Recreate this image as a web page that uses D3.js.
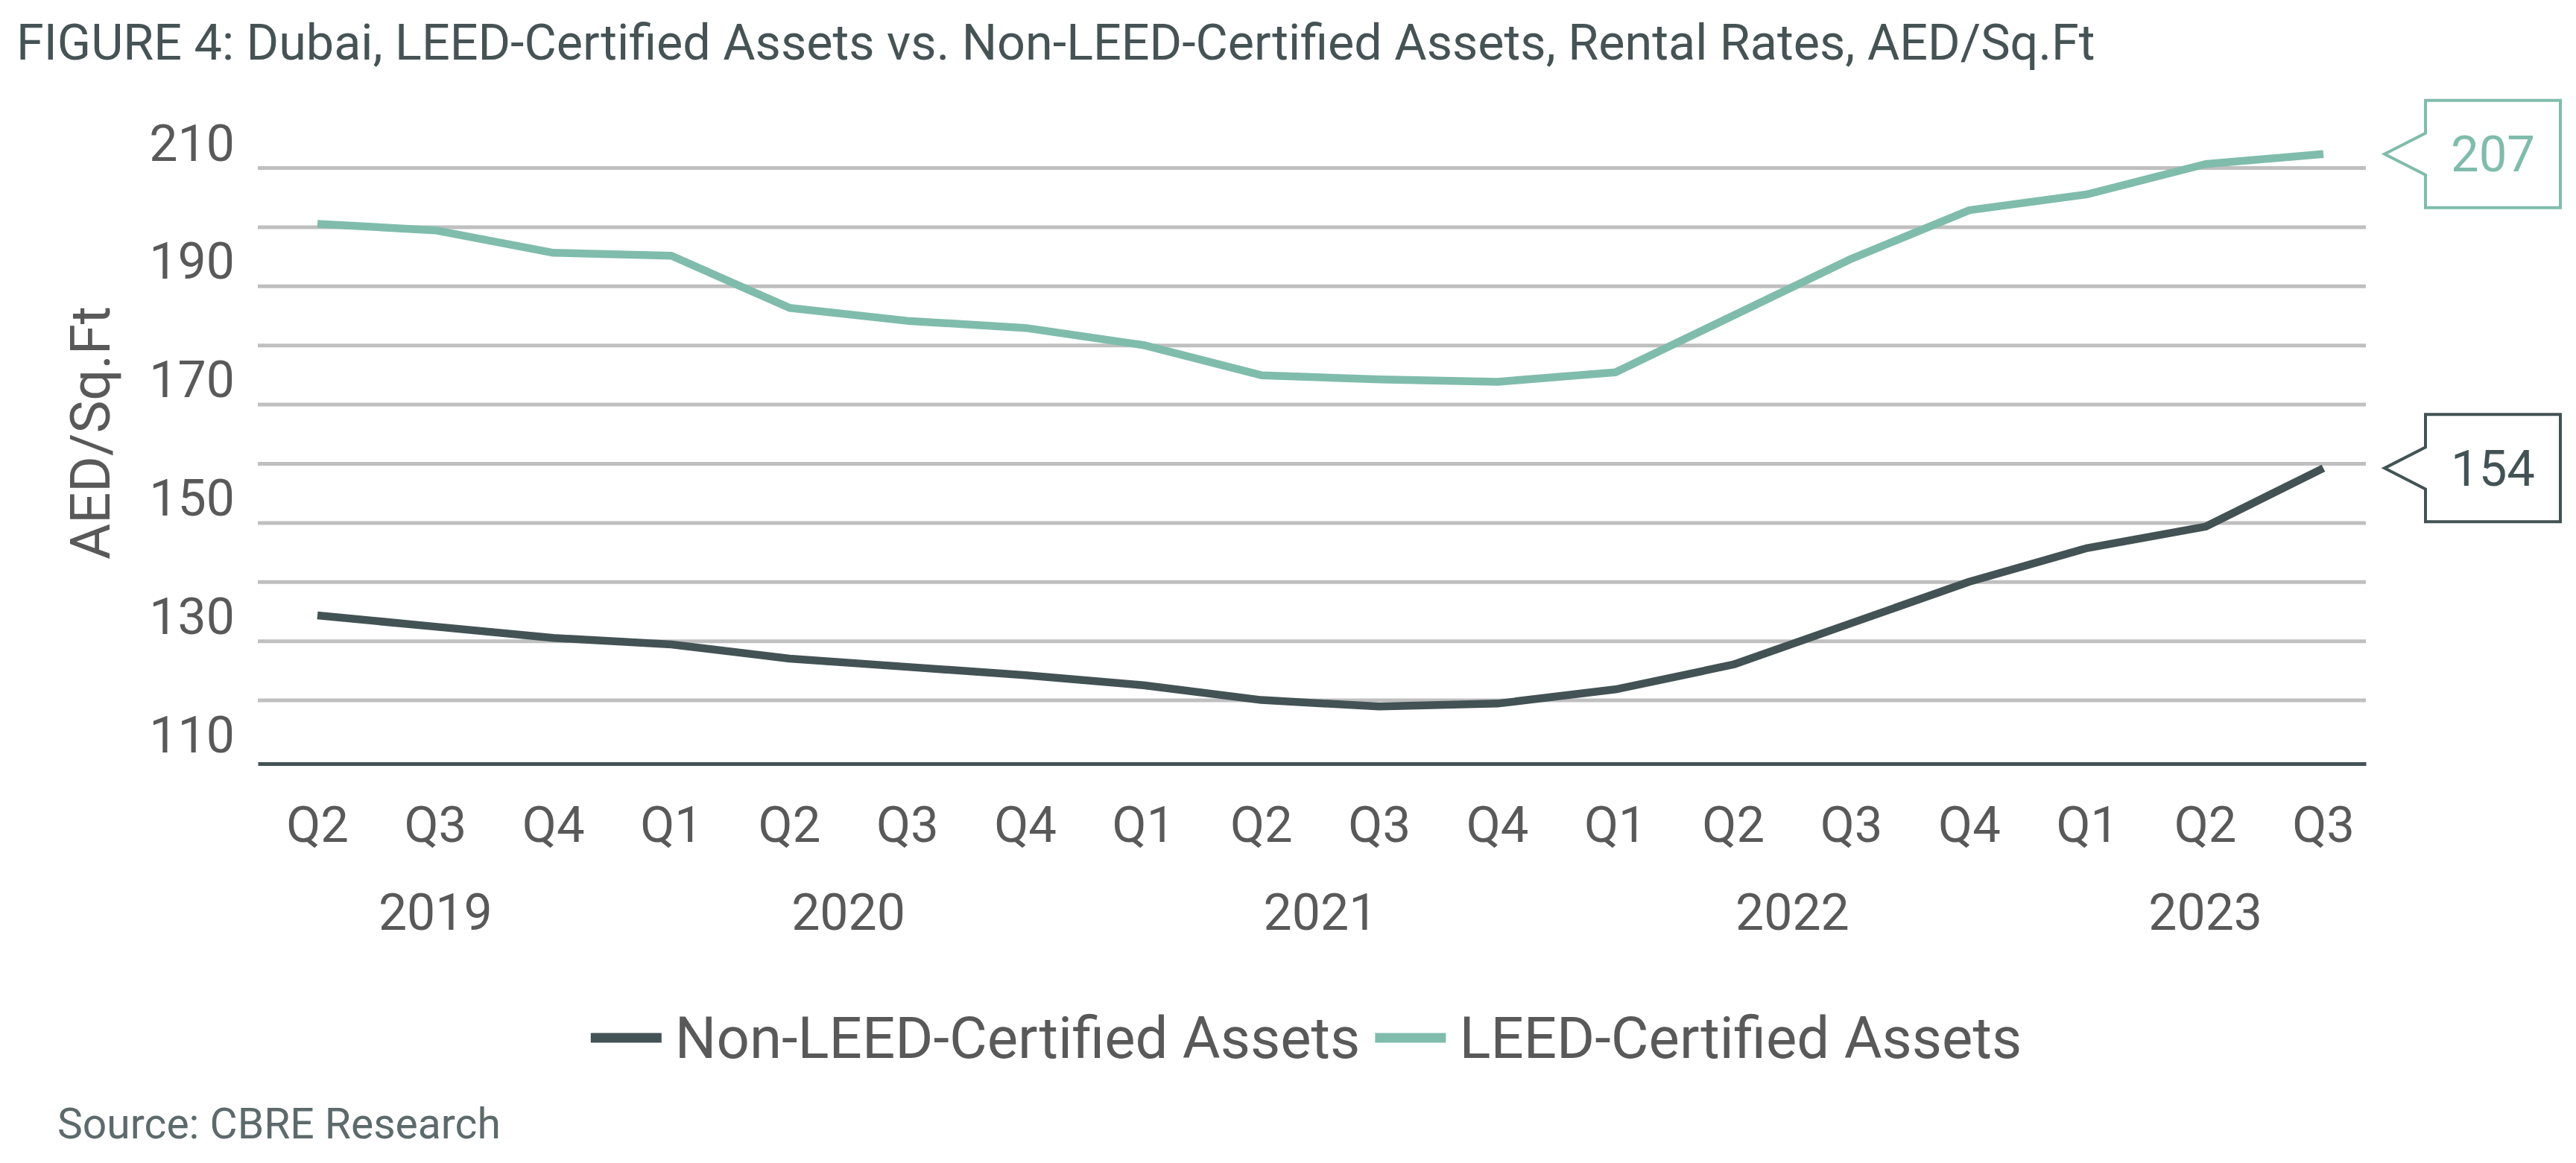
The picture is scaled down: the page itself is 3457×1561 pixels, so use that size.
<!doctype html>
<html lang="en">

<head>
	<meta charset="utf-8">
	<title>FIGURE 4: Dubai, LEED-Certified Assets vs. Non-LEED-Certified Assets</title>
	<style>
		html, body { margin: 0; padding: 0; background: #fff; }
		svg { display: block; }
		svg text { font-family: Roboto, "Noto Sans", sans-serif; }
	</style>
</head>

<body>
	<svg id="Chart"></svg>

	<script src="https://cdn.jsdelivr.net/npm/d3@7/dist/d3.min.js"></script>
	<script>
		(function () {
			"use strict"

			// quarters from Q2 2019 to Q3 2023
			var quarters = ["Q2", "Q3", "Q4", "Q1", "Q2", "Q3", "Q4", "Q1", "Q2", "Q3", "Q4", "Q1", "Q2", "Q3", "Q4", "Q1", "Q2", "Q3"];
			var years = ["2019", "2020", "2021", "2022", "2023"];
			// first and last quarter index of each year
			var yearSpans = [[0, 2], [3, 6], [7, 10], [11, 14], [15, 17]];

			var nonLeed = [129.3, 127.4, 125.5, 124.4, 122.0, 120.6, 119.2, 117.5, 115.0, 113.9, 114.4, 116.8, 121.0, 128.0, 135.0, 140.7, 144.3, 154.2];
			var leed = [195.5, 194.4, 190.6, 190.1, 181.3, 179.1, 177.9, 175.0, 169.9, 169.2, 168.8, 170.4, 180.0, 189.6, 197.8, 200.5, 205.6, 207.3];

			var seriesNames = ["Non-LEED-Certified Assets", "LEED-Certified Assets"];
			var gridValues = [115, 125, 135, 145, 155, 165, 175, 185, 195, 205];
			var tickValues = [110, 130, 150, 170, 190, 210];

			var W = 3457, H = 1561;
			var colors = ["#435254", "#80bcab"];
			var series = [nonLeed, leed];

			var svg = d3.select("#Chart").attr("width", W).attr("height", H);

			var plot = { left: 346, right: 3175, top: 225, bottom: 1019 };

			var x = d3.scalePoint(d3.range(quarters.length), [426, 3118]);
			var y = d3.scaleLinear([105, 205], [plot.bottom, plot.top]);

			// title
			svg.append("text")
				.attr("x", 22).attr("y", 80)
				.attr("font-size", 66.5)
				.attr("fill", "#465355")
				.text("FIGURE 4: Dubai, LEED-Certified Assets vs. Non-LEED-Certified Assets, Rental Rates, AED/Sq.Ft");

			// horizontal gridlines
			svg.append("g")
				.attr("transform", "translate(" + plot.left + ",0)")
				.call(d3.axisLeft(y).tickValues(gridValues).tickFormat("").tickSize(-(plot.right - plot.left)))
				.call(function (g) {
					g.select(".domain").remove();
					g.selectAll(".tick line").attr("stroke", "#bfbfbf").attr("stroke-width", 5);
				});

			// y tick labels
			svg.append("g")
				.attr("transform", "translate(" + plot.left + ",8)")
				.call(d3.axisLeft(y).tickValues(tickValues).tickSize(0).tickPadding(31))
				.call(function (g) {
					g.select(".domain").remove();
					g.selectAll(".tick text")
						.attr("font-family", "Roboto, sans-serif")
						.attr("font-size", 68)
						.attr("fill", "#595959");
				});

			// y axis title
			svg.append("text")
				.attr("transform", "translate(121," + 581 + ") rotate(-90)")
				.attr("text-anchor", "middle")
				.attr("dy", "0.35em")
				.attr("font-size", 74)
				.attr("fill", "#595959")
				.text("AED/Sq.Ft");

			// x axis baseline
			svg.append("g")
				.attr("transform", "translate(0," + (plot.bottom + 6) + ")")
				.call(d3.axisBottom(d3.scaleLinear([0, 1], [plot.left, plot.right])).ticks(0).tickSizeOuter(0))
				.call(function (g) {
					g.select(".domain").attr("stroke", "#435254").attr("stroke-width", 5);
				});

			// quarter labels
			svg.append("g").selectAll("text")
				.data(quarters)
				.join("text")
					.attr("x", function (d, i) { return x(i); })
					.attr("y", 1107)
					.attr("dy", "0.35em")
					.attr("text-anchor", "middle")
					.attr("font-size", 67)
					.attr("fill", "#595959")
					.text(function (d) { return d; });

			// year labels
			svg.append("g").selectAll("text")
				.data(years)
				.join("text")
					.attr("x", function (d, i) { return (x(yearSpans[i][0]) + x(yearSpans[i][1])) / 2; })
					.attr("y", 1224)
					.attr("dy", "0.35em")
					.attr("text-anchor", "middle")
					.attr("font-size", 68)
					.attr("fill", "#595959")
					.text(function (d) { return d; });

			// lines
			var line = d3.line()
				.x(function (d, i) { return x(i); })
				.y(function (d) { return y(d); });

			svg.append("g").selectAll("path")
				.data(series)
				.join("path")
					.attr("fill", "none")
					.attr("stroke", function (d, i) { return colors[i]; })
					.attr("stroke-width", 10.5)
					.attr("stroke-linejoin", "round")
					.attr("d", line);

			// end-value callouts
			var fmt = d3.format(".0f");
			var callouts = svg.append("g");
			series.forEach(function (values, i) {
				var last = values.length - 1,
					tipX = x(last) + 82,
					tipY = y(values[last]),
					bodyL = tipX + 55,
					bodyR = tipX + 236,
					top = tipY - 72,
					bottom = tipY + 72;

				var p = d3.path();
				p.moveTo(tipX, tipY);
				p.lineTo(bodyL, tipY - 28);
				p.lineTo(bodyL, top);
				p.lineTo(bodyR, top);
				p.lineTo(bodyR, bottom);
				p.lineTo(bodyL, bottom);
				p.lineTo(bodyL, tipY + 28);
				p.closePath();

				callouts.append("path")
					.attr("d", p.toString())
					.attr("fill", "#fff")
					.attr("stroke", colors[i])
					.attr("stroke-width", 4);

				callouts.append("text")
					.attr("x", (bodyL + bodyR) / 2)
					.attr("y", tipY)
					.attr("dy", "0.35em")
					.attr("text-anchor", "middle")
					.attr("font-size", 67)
					.attr("fill", colors[i])
					.text(fmt(values[last]));
			});

			// legend
			var legend = svg.append("g");
			var items = legend.selectAll("g")
				.data(seriesNames)
				.join("g");

			items.append("line")
				.attr("x1", 0).attr("x2", 95)
				.attr("stroke", function (d, i) { return colors[i]; })
				.attr("stroke-width", 13);

			items.append("text")
				.attr("x", 113)
				.attr("dy", "0.35em")
				.attr("font-size", 78)
				.attr("fill", "#595959")
				.text(function (d) { return d; });

			var offset = 0;
			items.each(function () {
				var g = d3.select(this);
				var w = 113 + g.select("text").node().getComputedTextLength();
				g.attr("transform", "translate(" + offset + ",0)");
				offset += w + 20;
			});
			offset -= 20;
			legend.attr("transform", "translate(" + (1753 - offset / 2) + ",1393)");

			// source
			svg.append("text")
				.attr("x", 77).attr("y", 1528)
				.attr("font-size", 57)
				.attr("fill", "#5d6a6c")
				.text("Source: CBRE Research");
		})();
	</script>
</body>

</html>
